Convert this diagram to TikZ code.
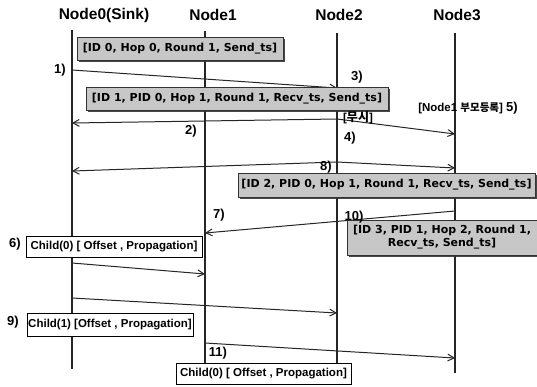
\documentclass[tikz,border=0pt]{standalone}
\usepackage{fontspec}
\setmainfont{Liberation Sans}
\newfontfamily\msgfont{DejaVu Sans}
\newfontfamily\korfont{Noto Sans CJK KR}
\usetikzlibrary{arrows.meta, positioning, shadows}

\begin{document}
\begin{tikzpicture}[
    x=1pt, y=-1pt,
    head/.style={font=\fontsize{15.5}{17}\selectfont\bfseries, inner sep=0pt},
    life/.style={line width=1.8pt, draw=black!85},
    msg/.style={draw=black!80, fill=black!22, inner sep=0pt, align=center, font=\msgfont\bfseries\fontsize{11}{13}\selectfont, drop shadow={shadow xshift=1.5pt, shadow yshift=-1.8pt, fill=black!80, opacity=0.9}},
    child/.style={draw=black, line width=0.9pt, fill=white, inner sep=0pt, font=\fontsize{11.5}{13}\selectfont\bfseries},
    lbl/.style={font=\fontsize{13}{15}\selectfont\bfseries, inner sep=0pt},
    note/.style={font=\fontsize{11.5}{13}\selectfont\bfseries, inner sep=0pt},
    arrow/.style={-{Straight Barb[length=2.2mm, width=2.4mm]}, line width=1pt, draw=black!85}
]
    \fill[white] (0,0) rectangle (537,386);
    \useasboundingbox (0,0) rectangle (537,386);

    % Headers
    \node[head] (n0) at (104,15) {Node0(Sink)};
    \node[head] (n1) at (213,15) {Node1};
    \node[head] (n2) at (339,15) {Node2};
    \node[head] (n3) at (457,15) {Node3};

    % Lifelines
    \coordinate (n0top) at (72,30);  \coordinate (n0end) at (72,369);
    \coordinate (n1top) at (205,31); \coordinate (n1end) at (205,363);
    \coordinate (n2top) at (337,33); \coordinate (n2end) at (337,363);
    \coordinate (n3top) at (455,33); \coordinate (n3end) at (455,373);
    \draw[life] (n0top) -- (n0end);
    \draw[life] (n1top) -- (n1end);
    \draw[life] (n2top) -- (n2end);
    \draw[life] (n3top) -- (n3end);

    % Message end points
    \coordinate (a1s) at (72,70);   \coordinate (a1e) at (337,88);
    \coordinate (a2s) at (337,119); \coordinate (a2e) at (72,123);
    \coordinate (a4e) at (455,134);
    \coordinate (a8s) at (337,162); \coordinate (a8e) at (72,171);
    \coordinate (a8f) at (455,168);
    \coordinate (a7s) at (455,211); \coordinate (a7e) at (205,233);
    \coordinate (a6s) at (72,263);  \coordinate (a6e) at (205,274);
    \coordinate (a9s) at (72,298);  \coordinate (a9e) at (337,313);
    \coordinate (a11s) at (205,343); \coordinate (a11e) at (455,358);

    % Messages
    \draw[arrow] (a1s) -- (a1e);
    \draw[arrow] (a2s) -- (a2e);
    \draw[arrow] (a2s) -- (a4e);
    \draw[arrow] (a8s) -- (a8e);
    \draw[arrow] (a8s) -- (a8f);
    \draw[arrow] (a7s) -- (a7e);
    \draw[arrow] (a6s) -- (a6e);
    \draw[arrow] (a9s) -- (a9e);
    \draw[arrow] (a11s) -- (a11e);

    % Packets
    \node[msg, minimum width=206pt, minimum height=23pt] (pkt0) at (180,48.5) {[ID 0, Hop 0, Round 1, Send\_ts]};
    \node[msg, minimum width=302pt, minimum height=23pt] (pkt1) at (237,98.5) {[ID 1, PID 0, Hop 1, Round 1, Recv\_ts, Send\_ts]};
    \node[msg, minimum width=297pt, minimum height=24pt] (pkt2) at (386.5,185) {[ID 2, PID 0, Hop 1, Round 1, Recv\_ts, Send\_ts]};
    \node[msg, minimum width=190pt, minimum height=35pt] (pkt3) at (442,237.5) {[ID 3, PID 1, Hop 2, Round 1,\\Recv\_ts, Send\_ts]};

    % Child info
    \node[child, minimum width=176pt, minimum height=21pt] (ch0) at (114,246.5) {Child(0) [ Offset , Propagation]};
    \node[child, minimum width=166pt, minimum height=23pt] (ch1) at (110,324.5) {Child(1) [Offset , Propagation]};
    \node[child, minimum width=175pt, minimum height=21pt] (ch2) at (263.5,373.5) {Child(0) [ Offset , Propagation]};

    % Step labels
    \node[lbl] (s1) at (60,70) {1)};
    \node[lbl] (s2) at (191,131) {2)};
    \node[lbl] (s3) at (357,77) {3)};
    \node[lbl] (s4) at (350,138) {4)};
    \node[note] (ign) at (358,118) {[{\korfont\fontsize{12}{13}\selectfont 무시}]};
    \node[note] (reg) at (468,108) {[Node1 {\korfont\fontsize{10.5}{13}\selectfont 부모등록}] {\fontsize{13}{15}\selectfont 5)}};
    \node[lbl] (s6) at (15,244) {6)};
    \node[lbl] (s7) at (219,215) {7)};
    \node[lbl] (s8) at (326,167) {8)};
    \node[lbl] (s9) at (13,322) {9)};
    \node[lbl] (s10) at (354,217) {10)};
    \node[lbl] (s11) at (218,353) {11)};
\end{tikzpicture}
\end{document}
